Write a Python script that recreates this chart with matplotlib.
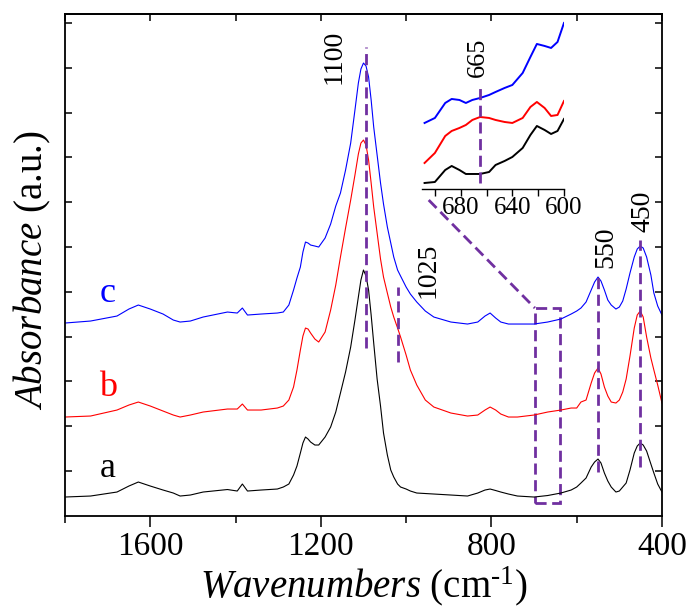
import matplotlib.pyplot as plt
import numpy as np
from matplotlib.patches import Rectangle
from matplotlib.ticker import MultipleLocator

plt.rcParams['font.family'] = ['Liberation Serif', 'DejaVu Serif']
plt.rcParams['mathtext.fontset'] = 'custom'
plt.rcParams['mathtext.rm'] = 'Liberation Serif'
plt.rcParams['mathtext.it'] = 'Liberation Serif:italic'

mark_color = '#7030A0'

# main spectra (cm-1, absorbance a.u.)
wavenumber = [1800, 1740, 1678, 1650, 1628, 1600, 1570, 1546, 1530, 1506,
              1476, 1419, 1396, 1384, 1372, 1340, 1302, 1288, 1275, 1264,
              1256, 1248, 1242, 1236, 1230, 1224, 1214, 1205, 1190, 1177,
              1165, 1154, 1142, 1130, 1120, 1112, 1106, 1100, 1094, 1088,
              1082, 1076, 1068, 1060, 1053, 1044, 1036, 1029, 1020, 1013,
              1000, 990, 975, 955, 935, 895, 856, 832, 815, 803,
              790, 778, 760, 739, 700, 668, 637, 613, 600, 590,
              578, 566, 558, 550, 543, 535, 527, 519, 508, 500,
              492, 484, 475, 465, 458, 451, 444, 436, 426, 419,
              410, 400]

absorb_a = [0.19, 0.20, 0.24, 0.30, 0.34, 0.30, 0.26, 0.23, 0.20, 0.21,
            0.24, 0.265, 0.25, 0.32, 0.25, 0.26, 0.27, 0.29, 0.32, 0.41,
            0.50, 0.63, 0.73, 0.79, 0.77, 0.74, 0.71, 0.71, 0.79, 0.89,
            1.04, 1.23, 1.44, 1.69, 1.96, 2.19, 2.36, 2.46, 2.40, 2.26,
            2.01, 1.73, 1.37, 1.10, 0.83, 0.61, 0.46, 0.39, 0.32, 0.29,
            0.27, 0.25, 0.23, 0.225, 0.22, 0.21, 0.20, 0.23, 0.26, 0.27,
            0.255, 0.24, 0.22, 0.20, 0.19, 0.205, 0.23, 0.26, 0.29, 0.33,
            0.38, 0.49, 0.54, 0.57, 0.53, 0.43, 0.35, 0.29, 0.24, 0.25,
            0.29, 0.33, 0.46, 0.63, 0.70, 0.73, 0.71, 0.65, 0.52, 0.43,
            0.32, 0.24]

absorb_b = [0.99, 1.00, 1.06, 1.11, 1.14, 1.10, 1.05, 1.01, 0.99, 1.01,
            1.04, 1.07, 1.07, 1.12, 1.06, 1.06, 1.08, 1.10, 1.16, 1.29,
            1.46, 1.66, 1.80, 1.88, 1.87, 1.83, 1.77, 1.74, 1.84, 2.06,
            2.31, 2.59, 2.88, 3.16, 3.41, 3.62, 3.73, 3.76, 3.71, 3.56,
            3.33, 3.09, 2.83, 2.57, 2.39, 2.23, 2.09, 1.99, 1.88, 1.79,
            1.61, 1.46, 1.31, 1.16, 1.09, 1.03, 1.00, 1.01, 1.06, 1.09,
            1.06, 1.02, 0.99, 0.99, 1.01, 1.04, 1.06, 1.08, 1.08, 1.14,
            1.16, 1.33, 1.43, 1.48, 1.42, 1.29, 1.20, 1.14, 1.13, 1.16,
            1.24, 1.37, 1.60, 1.88, 2.01, 2.05, 1.99, 1.79, 1.58, 1.46,
            1.31, 1.13]

absorb_c = [1.93, 1.95, 2.00, 2.07, 2.11, 2.07, 2.02, 1.96, 1.94, 1.95,
            1.99, 2.04, 2.03, 2.08, 2.01, 2.02, 2.03, 2.04, 2.11, 2.26,
            2.38, 2.49, 2.64, 2.74, 2.73, 2.71, 2.70, 2.69, 2.78, 2.92,
            3.10, 3.23, 3.46, 3.73, 4.06, 4.33, 4.47, 4.53, 4.50, 4.39,
            4.16, 3.89, 3.61, 3.33, 3.12, 2.89, 2.73, 2.59, 2.46, 2.40,
            2.29, 2.22, 2.14, 2.05, 1.99, 1.94, 1.92, 1.94, 2.00, 2.03,
            1.98, 1.94, 1.92, 1.92, 1.92, 1.94, 1.97, 2.02, 2.05, 2.08,
            2.14, 2.26, 2.34, 2.39, 2.35, 2.26, 2.16, 2.11, 2.07, 2.09,
            2.15, 2.27, 2.43, 2.59, 2.67, 2.70, 2.68, 2.59, 2.41, 2.23,
            2.10, 2.01]

# zoomed 710-600 cm-1 region (inset)
inset_wavenumber = [708, 700, 692, 687, 681, 676, 671, 665, 658, 653,
                    646, 640, 632, 626, 621, 615, 610, 605, 600]
inset_a = [0.06, 0.07, 0.19, 0.23, 0.19, 0.15, 0.15, 0.15, 0.17, 0.24,
           0.28, 0.32, 0.41, 0.54, 0.63, 0.59, 0.55, 0.58, 0.70]
inset_b = [0.26, 0.36, 0.53, 0.58, 0.61, 0.64, 0.69, 0.72, 0.71, 0.69,
           0.67, 0.66, 0.71, 0.82, 0.87, 0.81, 0.73, 0.74, 0.88]
inset_c = [0.66, 0.71, 0.86, 0.90, 0.89, 0.86, 0.89, 0.91, 0.94, 0.97,
           1.01, 1.04, 1.16, 1.32, 1.45, 1.43, 1.41, 1.47, 1.66]

sample_names = ['a', 'b', 'c']
sample_colors = ['black', '#FF0000', '#0000FF']
name_pos = [(1701, 0.48), (1699, 1.29), (1699, 2.23)]

peak_labels = ['1100', '1025', '550', '450']
peak_label_pos = [(1170, 4.59), (949, 2.46), (531, 2.69), (444, 3.05)]
peak_lines = [(1095, 1.68, 4.69), (1020, 1.54, 2.29),
              (550, 0.44, 2.41), (451, 0.49, 2.76)]

zoom_box = (698, 639, 0.13, 2.08)
zoom_link = (947, 3.16)

fig = plt.figure(figsize=(6.92, 6.16), dpi=100)
ax = fig.add_axes([0.0939, 0.1623, 0.8627, 0.8149])

for y, color in zip([absorb_a, absorb_b, absorb_c], sample_colors):
    ax.plot(wavenumber, y, color=color, lw=0.8)

for name, color, (x, y) in zip(sample_names, sample_colors, name_pos):
    ax.text(x, y, name, color=color, fontsize=26, ha='center', va='center')

dash = (0, (4, 2))
for label, (x, y) in zip(peak_labels, peak_label_pos):
    ax.text(x, y, label, fontsize=20, rotation=90, ha='center', va='center')
for x, y0, y1 in peak_lines:
    ax.plot([x, x], [y0, y1], color=mark_color, lw=2, ls=dash)

x0, x1, y0, y1 = zoom_box
ax.add_patch(Rectangle((x0, y0), x1 - x0, y1 - y0, fill=False,
                       ec=mark_color, lw=2, ls=dash))
ax.plot([zoom_link[0], x0], [zoom_link[1], y1], color=mark_color, lw=2,
        ls=dash)

ax.set_xlim(1800, 400)
ax.set_ylim(0, 5.02)
ax.xaxis.set_major_locator(MultipleLocator(400))
ax.xaxis.set_minor_locator(MultipleLocator(200))
ax.tick_params(axis='x', which='major', direction='out', length=8, width=1.1,
               labelsize=24, pad=3)
ax.tick_params(axis='x', which='minor', direction='out', length=5, width=1.1)
ax.set_yticks(np.arange(0.45, 5.0, 0.448))
ax.tick_params(axis='y', direction='in', left=True, right=True,
               labelleft=False, length=5, width=1.1)
for spine in ax.spines.values():
    spine.set_linewidth(1.3)

top = ax.secondary_xaxis('top')
top.xaxis.set_major_locator(MultipleLocator(400))
top.xaxis.set_minor_locator(MultipleLocator(200))
top.tick_params(which='both', direction='in', length=5, width=1.1,
                labeltop=False)
top.spines['top'].set_linewidth(1.3)

ax.set_xlabel(r'$\mathit{Wavenumbers}$ (cm$^{\text{-}1}$)', fontsize=28)
ax.xaxis.set_label_coords(0.5, -0.14)
ax.xaxis.label.set_va('center')
ax.set_ylabel(r'$\mathit{Absorbance}$ (a.u.)', fontsize=28)
ax.yaxis.set_label_coords(-0.054, 0.49)
ax.yaxis.label.set_va('center')

# inset
ins = fig.add_axes([0.6098, 0.6932, 0.2052, 0.2744], facecolor='none')
for y, color in zip([inset_a, inset_b, inset_c], sample_colors):
    ins.plot(inset_wavenumber, y, color=color, lw=1.4)
ins.plot([665, 665], [0.06, 1.06], color=mark_color, lw=2, ls=dash)
ins.text(667, 1.32, '665', fontsize=19, rotation=90, ha='center',
         va='center')
ins.set_xlim(710, 600)
ins.set_ylim(0, 1.69)
ins.xaxis.set_major_locator(MultipleLocator(40))
ins.xaxis.set_minor_locator(MultipleLocator(20))
ins.tick_params(axis='x', which='both', direction='out', length=5, width=1,
                labelsize=18, pad=1)
ins.set_yticks([])
for side in ['top', 'left', 'right']:
    ins.spines[side].set_visible(False)
ins.spines['bottom'].set_linewidth(1)

fig.savefig('out.png', dpi=100)
